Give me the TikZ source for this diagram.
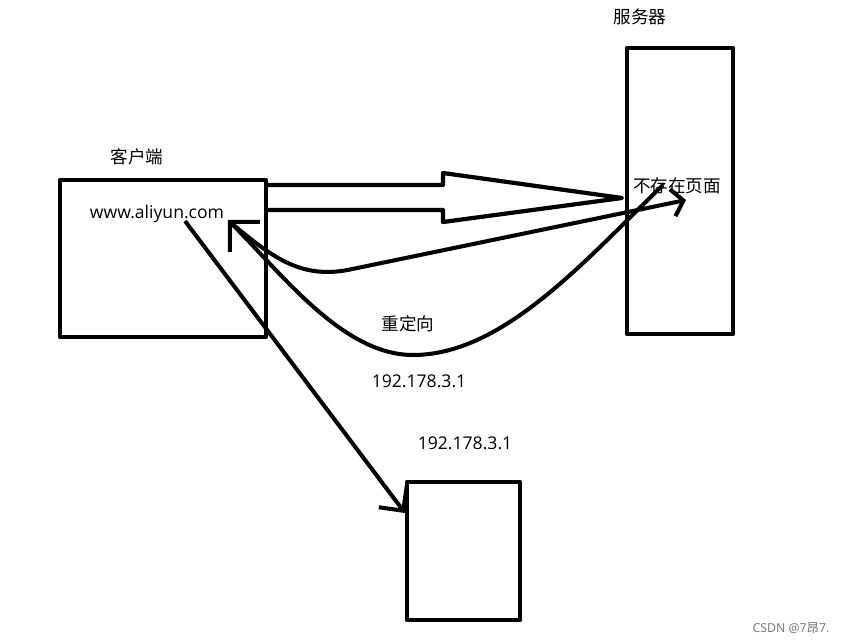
\documentclass[tikz,border=0pt]{standalone}
\usepackage{fontspec}
\setmainfont{Open Sans}
\newfontfamily\cjk{Noto Sans CJK SC}
\usetikzlibrary{arrows.meta}

\begin{document}
\begin{tikzpicture}[line join=round,
  box/.style={draw, line width=2.4pt},
  conn/.style={line width=2.3pt},
  lbl/.style={font=\fontsize{10}{12}\selectfont, inner sep=0pt}]
\useasboundingbox (0,0) rectangle (17,12.86);
\node[box, minimum width=4.12cm, minimum height=3.14cm] (client) at (3.26,7.69) {};
\node[box, minimum width=2.12cm, minimum height=5.72cm] (server) at (13.6,9.04) {};
\node[box, minimum width=2.26cm, minimum height=2.76cm] (target) at (9.27,1.84) {};
\node[lbl] (clientname) at (2.74,9.72) {\cjk 客户端};
\node[lbl] (servername) at (12.8,12.52) {\cjk 服务器};
\node[lbl] (url) at (3.14,8.58) {www.aliyun.com};
\node[lbl] (missing) at (13.54,9.14) {\cjk 不存在页面};
\node[lbl] (redirect) at (8.16,6.38) {\cjk 重定向};
\node[lbl] (ip1) at (8.38,5.24) {192.178.3.1};
\node[lbl] (ip2) at (9.3,4.0) {192.178.3.1};
\node[font=\fontsize{7}{8}\selectfont, text=black!55, inner sep=0pt] (mark) at (15.82,0.3) {CSDN @7{\cjk 昂}7.};
\coordinate (tip) at (12.44,8.9);
\coordinate (req) at (4.6,8.42);
\coordinate (back) at (4.56,8.46);
\coordinate (hit) at (13.72,8.86);
\coordinate (resp) at (13.26,9.16);
\coordinate (from) at (3.7,8.44);
\coordinate (to) at (8.1,2.6);
\draw[box] (5.32,9.16) -- (8.86,9.16) -- (8.86,9.4) -- (tip) -- (8.86,8.42) -- (8.86,8.66) -- (5.32,8.66);
\draw[conn, -{Straight Barb[length=2.2mm, width=5.5mm]}] (req) .. controls (5.4,7.75) and (6.0,7.26) .. (7.0,7.47) -- (hit);
\draw[conn, -{Straight Barb[length=4.2mm, width=8.5mm]}] (resp) .. controls (11.7,7.65) and (10.06,5.76) .. (8.26,5.76)
  .. controls (6.86,5.76) and (5.65,7.37) .. (back);
\draw[conn, -{Straight Barb[length=3.5mm, width=7mm]}] (from) -- (to);
\end{tikzpicture}
\end{document}
